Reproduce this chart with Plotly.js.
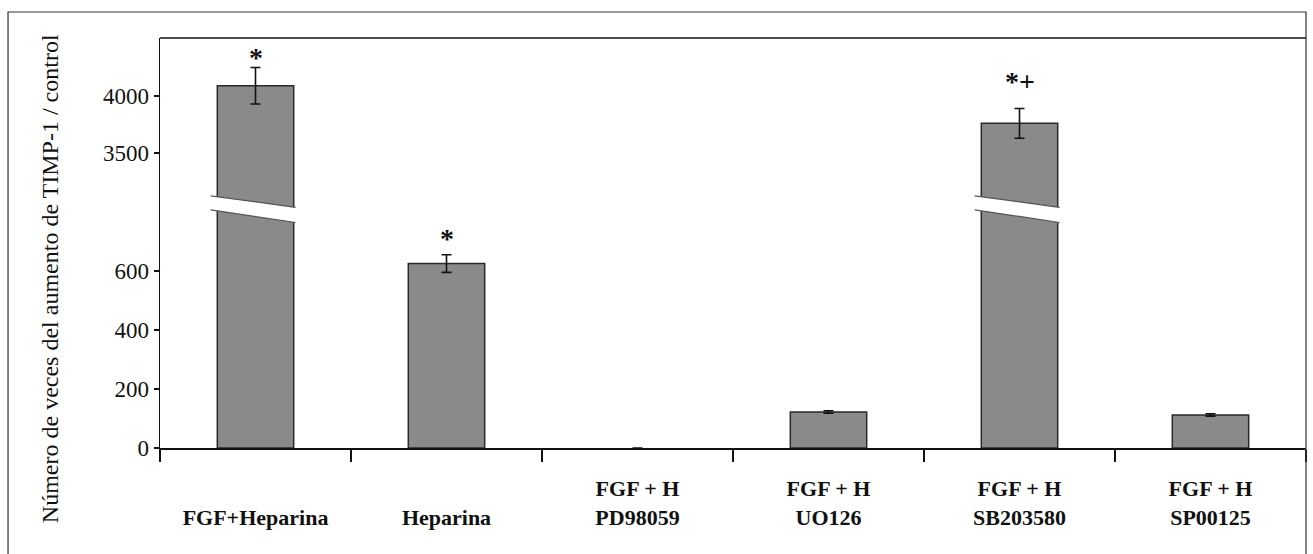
<!DOCTYPE html>
<html><head><meta charset="utf-8">
<script src="https://cdn.plot.ly/plotly-3.0.1.min.js"></script>
<style>html,body{margin:0;padding:0;background:#fff}</style>
</head><body><div id="chart" style="width:1313px;height:554px"></div>
<script>
// ---- data ----
const categories = ['FGF+Heparina', 'Heparina', 'FGF + H PD98059', 'FGF + H UO126', 'FGF + H SB203580', 'FGF + H SP00125'];
const tickLabels = ['<br><b>FGF+Heparina</b>', '<br><b>Heparina</b>', '<b>FGF + H</b><br><b>PD98059</b>', '<b>FGF + H</b><br><b>UO126</b>', '<b>FGF + H</b><br><b>SB203580</b>', '<b>FGF + H</b><br><b>SP00125</b>'];
const values = [4090, 625, 0, 122, 3760, 112];
const errors = [160, 30, 0, 4, 130, 4];
const significance = ['*', '*', '', '', '*+', ''];
const lowerTicks = [0, 200, 400, 600];
const upperTicks = [3500, 4000];
const lowerRange = [0, 810];
const upperRange = [3009, 4509];
const yTitle = 'Número de veces del aumento de TIMP-1 / control';

// ---- styling ----
const split = 0.583;
const FONT = '"Liberation Serif", "Times New Roman", serif';
const INK = '#111';
const barStyle = {color: '#8a8a8a', line: {color: '#2a2a2a', width: values.map(v => v > 0 ? 1.5 : 0)}};
const errStyle = {type: 'data', array: errors, visible: true, color: INK, thickness: 1.6, width: 5};

const traces = [
  {type: 'bar', x: categories, y: values, xaxis: 'x', yaxis: 'y', width: 0.4,
   marker: barStyle, error_y: errStyle, hoverinfo: 'x+y'},
  {type: 'bar', x: categories, y: values, xaxis: 'x', yaxis: 'y2', width: 0.4,
   marker: barStyle, error_y: errStyle, hoverinfo: 'x+y'}
];

const annotations = [];
const shapes = [];
categories.forEach((c, i) => {
  const tall = values[i] > lowerRange[1];
  if (significance[i]) {
    annotations.push({
      x: c, xref: 'x', y: values[i] + errors[i], yref: tall ? 'y2' : 'y',
      yanchor: 'bottom', showarrow: false, text: '<b>' + significance[i] + '</b>',
      yshift: (significance[i] === '*+' ? 10 : (tall ? -7 : -1)),
      font: {family: FONT, size: 28, color: INK}
    });
  }
  if (tall) {
    const xl = i - 0.235, xr = i + 0.21;
    const lt = split + 0.032, lb = split - 0.002, rt = split + 0.004, rb = split - 0.033;
    shapes.push({type: 'path', xref: 'x', yref: 'paper',
      path: `M${xl},${lt} L${xr},${rt} L${xr},${rb} L${xl},${lb} Z`,
      fillcolor: '#ffffff', line: {width: 0}, layer: 'above'});
    shapes.push({type: 'line', xref: 'x', yref: 'paper', x0: xl, y0: lt, x1: xr, y1: rt,
      line: {color: '#555', width: 1.2}, layer: 'above'});
    shapes.push({type: 'line', xref: 'x', yref: 'paper', x0: xl, y0: lb, x1: xr, y1: rb,
      line: {color: '#555', width: 1.2}, layer: 'above'});
  }
});

annotations.push({
  text: yTitle, textangle: -90, xref: 'paper', yref: 'paper', x: -0.109, y: 0.412,
  showarrow: false, font: {family: FONT, size: 24, color: INK}
});

// top border of plot and outer frame
shapes.push({type: 'line', xref: 'paper', yref: 'paper', x0: 0, x1: 1, y0: 1, y1: 1,
  line: {color: INK, width: 1.5}});
shapes.push({type: 'rect', xref: 'paper', yref: 'paper', x0: -0.1326, x1: 1, y0: -0.3, y1: 1.0634,
  line: {color: '#333', width: 1.2}, fillcolor: 'rgba(0,0,0,0)'});

const yCommon = {ticks: 'outside', ticklen: 5, tickwidth: 1.5, tickcolor: INK,
  showline: true, linecolor: INK, linewidth: 1.5, showgrid: false, zeroline: false,
  anchor: 'x', tickfont: {family: FONT, size: 23, color: INK}, fixedrange: true};

const layout = {
  width: 1313, height: 554,
  margin: {l: 160, r: 7, t: 38, b: 106},
  paper_bgcolor: '#fff', plot_bgcolor: '#fff',
  showlegend: false,
  font: {family: FONT, size: 22, color: INK},
  xaxis: {type: 'category', tickmode: 'array', tickvals: categories, ticktext: tickLabels,
    tickson: 'boundaries', ticks: 'outside', ticklen: 12, tickwidth: 2, tickcolor: INK,
    showline: true, linecolor: INK, linewidth: 2, showgrid: false, zeroline: false,
    anchor: 'y', ticklabelstandoff: 20, fixedrange: true,
    tickfont: {family: FONT, size: 22, color: INK}},
  yaxis: Object.assign({domain: [0, split], range: lowerRange, tickmode: 'array', tickvals: lowerTicks}, yCommon),
  yaxis2: Object.assign({domain: [split, 1], range: upperRange, tickmode: 'array', tickvals: upperTicks}, yCommon),
  annotations: annotations,
  shapes: shapes
};

Plotly.newPlot('chart', traces, layout, {displayModeBar: false, staticPlot: true});
</script>
</body></html>
